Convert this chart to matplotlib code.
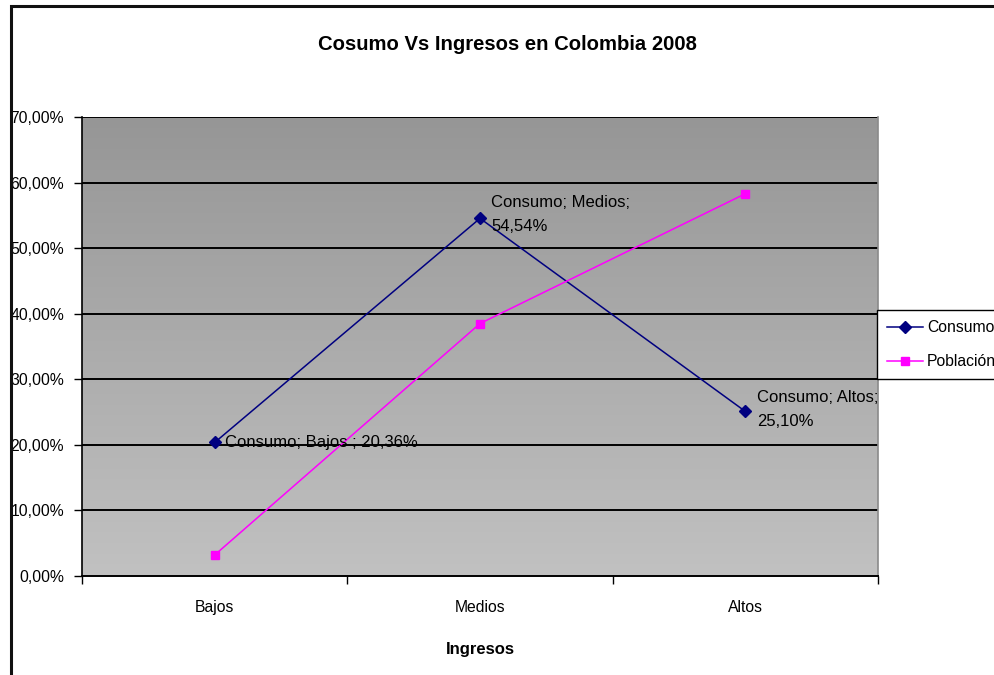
import numpy as np
import matplotlib
matplotlib.use("Agg")
import matplotlib.pyplot as plt
from matplotlib.patches import Rectangle
from matplotlib.ticker import FixedLocator, FuncFormatter

plt.rcParams['font.family'] = ['Liberation Sans', 'DejaVu Sans']

# Data
categorias = ["Bajos", "Medios", "Altos"]
consumo = [20.36, 54.54, 25.10]
poblacion = [3.2, 38.5, 58.3]
etiquetas_cat = ["Bajos ", "Medios", "Altos"]

FS_TICK = 11.3
FS_LBL = 12

fig = plt.figure(figsize=(9.94, 6.75), dpi=100)
W, H = 994, 675
ax = fig.add_axes([82 / W, 1 - 576 / H, (878 - 82) / W, (576 - 117) / H])

# Gradient background of the plot area (darker at top)
grad = np.linspace(0, 1, 256).reshape(-1, 1)
top = np.array([150, 150, 150]) / 255
bot = np.array([193, 193, 193]) / 255
img = top + (bot - top) * grad[..., None]
ax.imshow(img, extent=[0, 1, 0, 1], transform=ax.transAxes, aspect='auto',
          zorder=0, interpolation='bilinear')

x = np.arange(len(categorias))
ax.set_xlim(-0.5, len(categorias) - 0.5)
ax.set_ylim(0, 70)

# Horizontal gridlines
for yv in range(10, 80, 10):
    ax.axhline(yv, color='black', lw=1.4, zorder=1)

ax.plot(x, consumo, color='#000080', lw=1.1, marker='D', markersize=6,
        markerfacecolor='#000080', markeredgecolor='#000080', zorder=3, label='Consumo')
ax.plot(x, poblacion, color='#FF00FF', lw=1.1, marker='s', markersize=6,
        markerfacecolor='#FF00FF', markeredgecolor='#FF00FF', zorder=3, label='Población')

def fmt(v):
    return f"{v:.2f}%".replace('.', ',')

# Data labels for the Consumo series
ax.annotate(f"Consumo; {etiquetas_cat[0]}; {fmt(consumo[0])}", (x[0], consumo[0]),
            xytext=(10, 0), textcoords='offset pixels', va='center', ha='left',
            fontsize=FS_LBL, zorder=4)
ax.annotate(f"Consumo; {etiquetas_cat[1]};\n{fmt(consumo[1])}", (x[1], consumo[1]),
            xytext=(11, 23), textcoords='offset pixels', va='top', ha='left',
            fontsize=FS_LBL, linespacing=1.75, zorder=4)
ax.annotate(f"Consumo; {etiquetas_cat[2]};\n{fmt(consumo[2])}", (x[2], consumo[2]),
            xytext=(12, 21), textcoords='offset pixels', va='top', ha='left',
            fontsize=FS_LBL, linespacing=1.75, zorder=4)

# Axes styling
ax.yaxis.set_major_locator(FixedLocator(np.arange(0, 80, 10)))
ax.yaxis.set_major_formatter(FuncFormatter(lambda v, p: fmt(v)))
ax.set_xticks([-0.5, 0.5, 1.5, 2.5])
ax.set_xticklabels([])
ax.set_xticks(x, minor=True)
ax.set_xticklabels(categorias, minor=True)
ax.tick_params(axis='x', which='major', length=6, width=1, direction='out', color='black')
ax.tick_params(axis='x', which='minor', length=0, pad=17, labelsize=FS_TICK)
ax.tick_params(axis='y', length=6, width=1, direction='out', labelsize=FS_TICK, pad=7)

ax.spines['top'].set_visible(False)
ax.spines['right'].set_color('#8a8a8a')
ax.spines['right'].set_linewidth(1.2)
ax.spines['left'].set_color('black')
ax.spines['bottom'].set_color('black')
ax.spines['left'].set_linewidth(1.2)
ax.spines['bottom'].set_linewidth(1.4)

ax.set_xlabel("Ingresos", fontsize=FS_LBL, fontweight='bold', labelpad=20)

fig.text(507 / W, 1 - 44 / H, "Cosumo Vs Ingresos en Colombia 2008", ha='center',
         va='center', fontsize=14.6, fontweight='bold')

# Legend (partly cut off by the right edge)
leg = fig.legend(loc='upper left', bbox_to_anchor=(877 / W, 1 - 310 / H),
                 bbox_transform=fig.transFigure, fontsize=FS_TICK, frameon=True,
                 fancybox=False, edgecolor='black', framealpha=1,
                 handlelength=2.3, handletextpad=0.25, borderpad=0.65,
                 labelspacing=1.2, borderaxespad=0)
leg.get_frame().set_linewidth(1.0)

# Chart border
fig.patches.append(Rectangle((10.5 / W, -0.1), 1.2, 1 - 6 / H + 0.1,
                             transform=fig.transFigure, fill=False,
                             edgecolor='#111111', lw=2.2))

fig.savefig("out.png", dpi=100)
